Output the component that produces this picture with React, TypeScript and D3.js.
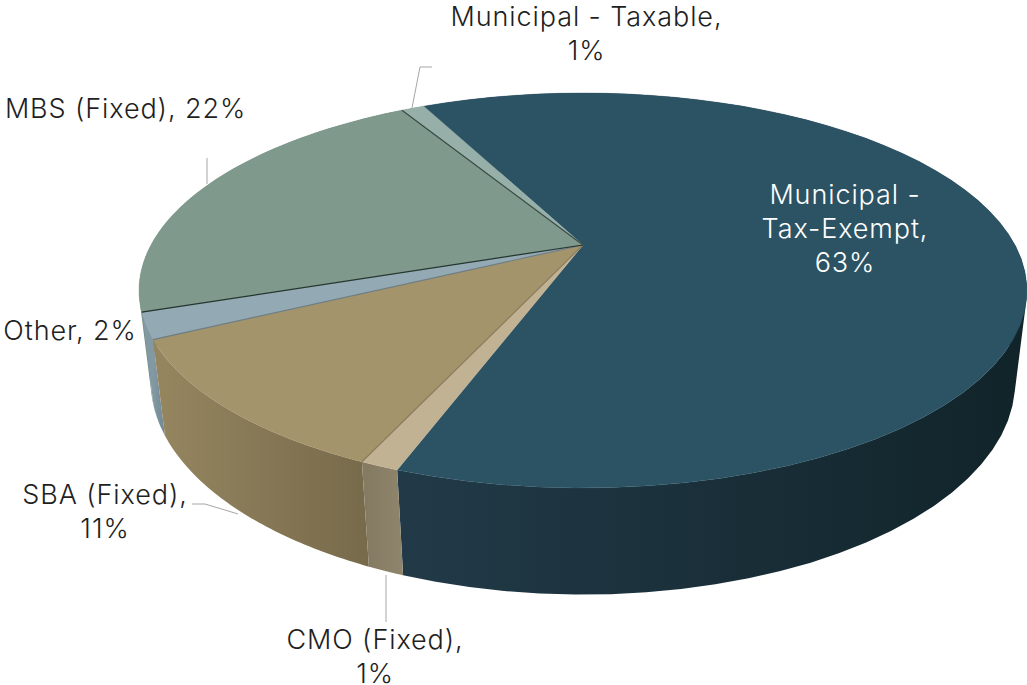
import React from "react";
import * as d3 from "d3";

const categories = ["Municipal - Tax-Exempt", "CMO (Fixed)", "SBA (Fixed)", "Other", "MBS (Fixed)", "Municipal - Taxable"];
const shares = [62.8, 1.15, 10.9, 2.1, 22, 1.05];
const topColors = ["#2c5364", "#c2b294", "#a4946c", "#93a9b3", "#7f9a8c", "#96afa8"];
const wallLight = ["#223a48", "#857a62", "#94855f", "#8299a4", "#6f8a7c", "#86a098"];
const wallDark = ["#11242a", "#8f856c", "#776a4b", "#708792", "#5f7a6c", "#76908a"];
const edgeColors = ["none", "none", "#8a7d5c", "#6f7d80", "#25352f", "#3a4a44"];

const width = 1027;
const height = 685;

// perspective of the pie: unit disc -> screen
const cx = 583;
const cy = 245;
const a = 432;
const b = 187;
const p = 0.2305;
const q = 0.0257;
const c = 91;

const project = (angle: number, r: number, h: number): [number, number] => {
  const u = r * Math.sin(angle);
  const v = -r * Math.cos(angle);
  const w = 1 - p * v + q * h;
  return [cx + (a * u) / w, cy + (b * v + c * h) / w];
};

const line = d3.line();
const arcAngles = (start: number, end: number) => d3.range(0, 61).map((i) => start + ((end - start) * i) / 60);

const pieGen = d3
  .pie<number>()
  .sort(null)
  .startAngle((-26.4 * Math.PI) / 180)
  .endAngle(((360 - 26.4) * Math.PI) / 180);

const slices = pieGen(shares);

const topPath = (s: d3.PieArcDatum<number>) =>
  line([project(0, 0, 0), ...arcAngles(s.startAngle, s.endAngle).map((t) => project(t, 1, 0))]) + "Z";

// one quad per arc step, all wound the same way, so the silhouette fills too
const wallPath = (s: d3.PieArcDatum<number>) => {
  const ts = arcAngles(s.startAngle, s.endAngle);
  return d3
    .pairs(ts)
    .map(([t0, t1]) => {
      const quad = [project(t0, 1, 0), project(t1, 1, 0), project(t1, 1, 1), project(t0, 1, 1)];
      if (d3.polygonArea(quad) < 0) quad.reverse();
      return line(quad) + "Z";
    })
    .join("");
};

// back to front, so the nearer walls cover the farther ones
const wallOrder = d3.range(slices.length).sort((i, j) => {
  const mid = (s: d3.PieArcDatum<number>) => -Math.cos((s.startAngle + s.endAngle) / 2);
  return d3.ascending(mid(slices[i]), mid(slices[j]));
});

const labelLines = [
  ["Municipal -", "Tax-Exempt,", "63%"],
  ["CMO (Fixed),", "1%"],
  ["SBA (Fixed),", "11%"],
  ["Other, 2%"],
  ["MBS (Fixed), 22%"],
  ["Municipal - Taxable,", "1%"],
];
const labelPos = [
  [845, 204],
  [375, 649],
  [105, 504],
  [70, 340],
  [125.5, 118],
  [586.5, 26],
];
const leaders = [
  [[386, 575], [386, 622]],
  [[192, 504], [205, 504], [238, 514]],
  [[207, 184], [207, 158]],
  [[412, 108], [420, 67], [432, 67]],
];

export default function App() {
  return (
    <svg width={width} height={height} style={{ position: "absolute", left: 0, top: 0 }} fontFamily="Inter, sans-serif">
      <defs>
        {slices.map((s, i) => {
          const xs = arcAngles(s.startAngle, s.endAngle).map((t) => project(t, 1, 1)[0]);
          return (
            <linearGradient key={i} id={`wall${i}`} gradientUnits="userSpaceOnUse" x1={d3.min(xs)} x2={d3.max(xs)} y1={0} y2={0}>
              <stop offset="0%" stopColor={wallLight[i]} />
              <stop offset="100%" stopColor={wallDark[i]} />
            </linearGradient>
          );
        })}
      </defs>
      {wallOrder.map((i) => (
        <path key={i} d={wallPath(slices[i])} fill={`url(#wall${i})`} />
      ))}
      {slices.map((s, i) => (
        <path key={i} d={topPath(s)} fill={topColors[i]} stroke={topColors[i]} strokeWidth={0.4} />
      ))}
      {slices.map((s, i) => (
        <path key={i} d={line([project(0, 0, 0), project(s.startAngle, 1, 0)]) || ""} fill="none" stroke={edgeColors[i]} strokeWidth={1.2} />
      ))}
      {leaders.map((l, i) => (
        <path key={i} d={line(l as [number, number][]) || ""} fill="none" stroke="#a6a6a6" strokeWidth={1} />
      ))}
      {labelLines.map((lines, i) =>
        lines.map((t, j) => (
          <text
            key={j}
            x={labelPos[i][0]}
            y={labelPos[i][1] + j * 34}
            textAnchor="middle"
            fontSize={27}
            fontWeight={300}
            letterSpacing={0.9}
            fill={i === 0 ? "#ffffff" : "#1f1f1f"}
          >
            {t}
          </text>
        ))
      )}
    </svg>
  );
}
